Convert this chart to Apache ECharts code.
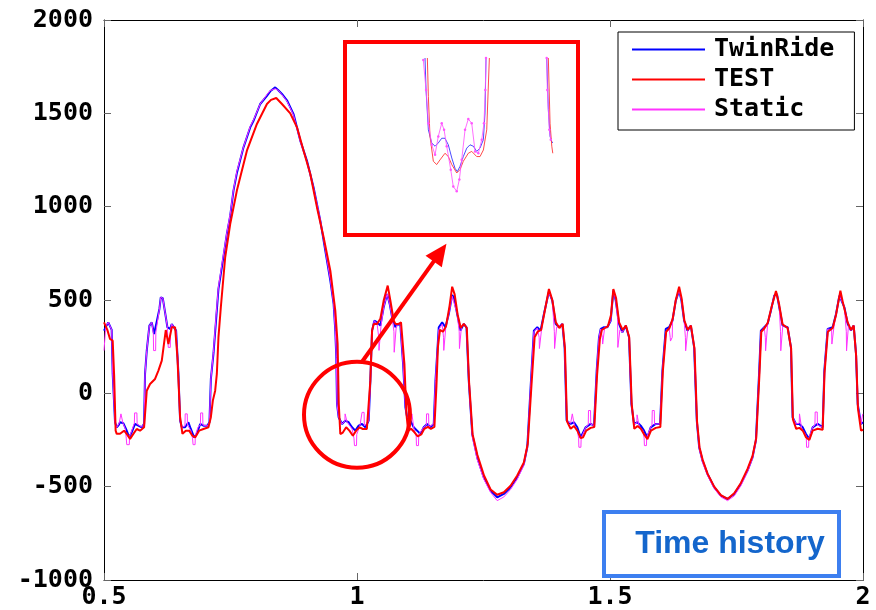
<!DOCTYPE html>
<html><head><meta charset="utf-8">
<script src="https://cdn.jsdelivr.net/npm/echarts@6/dist/echarts.min.js"></script>
<style>html,body{margin:0;padding:0;background:#fff}#c{width:876px;height:610px}</style>
</head><body><div id="c"></div>
<script>
// ---- Main chart data: [time, value] ----
const twinRide = [
[0.500,336],[0.5045,360],[0.5085,380],[0.5120,375],[0.5152,340],[0.5172,104],[0.5218,-155],[0.5251,-182],[0.5290,-170],[0.5317,-155],[0.5382,-160],[0.5435,-191],[0.5501,-236],[0.5548,-209],[0.5613,-164],[0.5679,-173],[0.5745,-182],[0.5792,-164],[0.5811,104],[0.5845,229],[0.5897,363],[0.5944,380],[0.5990,318],[0.6029,327],[0.6095,452],[0.6122,514],[0.6162,510],[0.6207,434],[0.6253,354],[0.6306,345],[0.6339,371],[0.6372,371],[0.6425,336],[0.6471,104],[0.6504,-146],[0.6538,-182],[0.6603,-182],[0.6668,-155],[0.6716,-191],[0.6781,-236],[0.6835,-217],[0.6900,-164],[0.6965,-173],[0.7044,-173],[0.7084,-155],[0.7112,77],[0.7163,211],[0.7217,400],[0.7262,560],[0.7329,675],[0.7428,854],[0.7494,950],[0.7559,1086],[0.7626,1180],[0.7757,1318],[0.7890,1425],[0.7955,1460],[0.8087,1550],[0.8220,1594],[0.8285,1618],[0.8384,1639],[0.8450,1622],[0.8517,1604],[0.8616,1570],[0.8746,1496],[0.8879,1354],[0.9011,1246],[0.9142,1103],[0.9275,925],[0.9374,764],[0.9473,604],[0.9538,479],[0.9571,336],[0.9591,193],[0.9605,-57],[0.9637,-128],[0.9704,-164],[0.9769,-146],[0.9835,-155],[0.9902,-182],[0.9967,-200],[1.0033,-173],[1.0100,-164],[1.0165,-182],[1.0231,-146],[1.0264,68],[1.0298,336],[1.0343,389],[1.0397,380],[1.0462,363],[1.0527,461],[1.0595,532],[1.0646,479],[1.0694,407],[1.0759,354],[1.0805,372],[1.0858,363],[1.0911,157],[1.0957,-75],[1.0991,-128],[1.1056,-146],[1.1121,-182],[1.1188,-200],[1.1254,-218],[1.1319,-182],[1.1386,-164],[1.1452,-182],[1.1517,-164],[1.1551,68],[1.1584,211],[1.1616,354],[1.1683,380],[1.1748,354],[1.1814,425],[1.1881,527],[1.1913,514],[1.1980,425],[1.2045,336],[1.2111,372],[1.2164,354],[1.2209,68],[1.2277,-218],[1.2376,-343],[1.2506,-450],[1.2639,-521],[1.2771,-557],[1.2902,-539],[1.3035,-503],[1.3167,-450],[1.3298,-378],[1.3365,-289],[1.3431,32],[1.3496,336],[1.3563,354],[1.3628,336],[1.3694,425],[1.3793,545],[1.3860,497],[1.3925,372],[1.3991,354],[1.4058,372],[1.4103,246],[1.4143,-146],[1.4222,-164],[1.4288,-155],[1.4354,-182],[1.4420,-236],[1.4453,-236],[1.4519,-182],[1.4618,-164],[1.4684,-173],[1.4737,122],[1.4783,300],[1.4816,345],[1.4882,354],[1.4948,354],[1.5014,389],[1.5066,550],[1.5113,497],[1.5179,372],[1.5245,327],[1.5310,363],[1.5376,300],[1.5423,-57],[1.5475,-164],[1.5541,-155],[1.5607,-173],[1.5673,-200],[1.5739,-236],[1.5805,-182],[1.5904,-164],[1.5990,-164],[1.6036,122],[1.6102,345],[1.6168,354],[1.6234,389],[1.6300,497],[1.6366,550],[1.6412,497],[1.6465,389],[1.6531,336],[1.6597,363],[1.6663,246],[1.6715,-146],[1.6762,-289],[1.6828,-361],[1.6927,-432],[1.7059,-503],[1.7191,-548],[1.7323,-566],[1.7455,-539],[1.7587,-485],[1.7718,-414],[1.7817,-343],[1.7883,-253],[1.7949,122],[1.7982,336],[1.8048,354],[1.8114,372],[1.8180,443],[1.8246,523],[1.8299,532],[1.8345,461],[1.8411,363],[1.8510,354],[1.8576,246],[1.8609,-128],[1.8675,-164],[1.8741,-164],[1.8807,-182],[1.8873,-218],[1.8939,-244],[1.9005,-182],[1.9104,-164],[1.9203,-182],[1.9236,122],[1.9302,345],[1.9401,354],[1.9467,425],[1.9533,523],[1.9566,532],[1.9632,461],[1.9697,372],[1.9763,336],[1.9816,363],[1.9862,211],[1.9895,-57],[1.9961,-164],[2.0000,-155]
];
const test = [
[0.500,380],[0.5066,340],[0.5119,291],[0.5172,282],[0.5200,100],[0.5230,-200],[0.5251,-217],[0.5317,-217],[0.5396,-200],[0.5449,-217],[0.5515,-244],[0.5580,-217],[0.5647,-191],[0.5712,-200],[0.5792,-182],[0.5845,14],[0.5910,50],[0.6009,77],[0.6075,122],[0.6142,175],[0.6221,339],[0.6273,264],[0.6339,354],[0.6405,354],[0.6451,193],[0.6504,-128],[0.6550,-217],[0.6617,-200],[0.6682,-200],[0.6747,-227],[0.6801,-236],[0.6880,-200],[0.6965,-191],[0.7064,-182],[0.7112,-128],[0.7151,-39],[0.7197,14],[0.7230,104],[0.7262,300],[0.7309,461],[0.7395,729],[0.7494,907],[0.7626,1086],[0.7824,1300],[0.8022,1443],[0.8220,1550],[0.8300,1572],[0.8404,1582],[0.8517,1550],[0.8681,1500],[0.8814,1425],[0.8944,1300],[0.9077,1175],[0.9209,996],[0.9340,836],[0.9473,657],[0.9571,443],[0.9617,265],[0.9640,-57],[0.9670,-218],[0.9720,-210],[0.9786,-182],[0.9850,-200],[0.9918,-227],[0.9984,-200],[1.0050,-182],[1.0117,-191],[1.0195,-191],[1.0264,68],[1.0298,336],[1.0330,372],[1.0397,372],[1.0462,400],[1.0527,497],[1.0607,577],[1.0660,497],[1.0726,389],[1.0759,372],[1.0825,372],[1.0870,380],[1.0937,157],[1.0977,-110],[1.1010,-200],[1.1070,-190],[1.1140,-210],[1.1200,-230],[1.1270,-220],[1.1330,-190],[1.1400,-180],[1.1460,-190],[1.1530,-180],[1.1570,40],[1.1600,250],[1.1640,340],[1.1700,330],[1.1760,360],[1.1830,470],[1.1881,571],[1.1930,530],[1.1990,420],[1.2050,350],[1.2111,372],[1.2170,350],[1.2215,60],[1.2285,-220],[1.2380,-330],[1.2510,-440],[1.2640,-515],[1.2771,-543],[1.2902,-530],[1.3035,-495],[1.3167,-440],[1.3298,-370],[1.3375,-270],[1.3445,30],[1.3510,300],[1.3570,330],[1.3640,340],[1.3710,440],[1.3793,559],[1.3860,500],[1.3930,380],[1.4000,350],[1.4065,372],[1.4110,240],[1.4150,-150],[1.4222,-190],[1.4288,-175],[1.4354,-200],[1.4420,-240],[1.4470,-235],[1.4530,-200],[1.4618,-185],[1.4690,-180],[1.4745,100],[1.4800,290],[1.4840,340],[1.4900,350],[1.4960,360],[1.5020,420],[1.5066,559],[1.5120,510],[1.5180,380],[1.5250,340],[1.5315,363],[1.5380,300],[1.5430,-60],[1.5480,-190],[1.5545,-175],[1.5610,-190],[1.5675,-220],[1.5740,-245],[1.5810,-200],[1.5904,-185],[1.5995,-180],[1.6045,120],[1.6110,330],[1.6175,350],[1.6240,400],[1.6300,500],[1.6366,571],[1.6415,510],[1.6470,390],[1.6535,340],[1.6600,363],[1.6670,240],[1.6720,-150],[1.6770,-290],[1.6830,-355],[1.6927,-430],[1.7059,-500],[1.7191,-545],[1.7323,-566],[1.7455,-535],[1.7587,-480],[1.7718,-405],[1.7817,-335],[1.7890,-240],[1.7955,110],[1.7990,330],[1.8055,350],[1.8120,380],[1.8190,460],[1.8280,548],[1.8340,480],[1.8410,370],[1.8510,350],[1.8580,240],[1.8615,-140],[1.8680,-190],[1.8745,-185],[1.8810,-200],[1.8873,-235],[1.8939,-250],[1.9005,-200],[1.9104,-190],[1.9203,-195],[1.9240,110],[1.9305,330],[1.9401,350],[1.9467,420],[1.9553,550],[1.9600,490],[1.9697,380],[1.9763,340],[1.9816,363],[1.9865,200],[1.9900,-80],[1.9961,-200],[2.0000,-195]
];
const staticRide = [
[0.500,229],[0.5030,229],[0.5035,360],[0.5085,380],[0.5120,370],[0.5152,340],[0.5172,104],[0.5218,-160],[0.5251,-182],[0.5300,-160],[0.5330,-160],[0.5335,-110],[0.5370,-110],[0.5375,-160],[0.5420,-190],[0.5440,-240],[0.5450,-275],[0.5500,-275],[0.5505,-230],[0.5548,-200],[0.5600,-160],[0.5605,-105],[0.5650,-105],[0.5655,-165],[0.5745,-180],[0.5792,-165],[0.5811,104],[0.5845,229],[0.5897,363],[0.5944,380],[0.5975,320],[0.5980,229],[0.6020,229],[0.6025,327],[0.6095,452],[0.6122,514],[0.6162,510],[0.6207,434],[0.6253,354],[0.6270,246],[0.6310,246],[0.6315,345],[0.6339,371],[0.6372,371],[0.6425,336],[0.6471,104],[0.6504,-146],[0.6538,-182],[0.6600,-175],[0.6605,-110],[0.6645,-110],[0.6650,-170],[0.6716,-200],[0.6750,-240],[0.6760,-275],[0.6800,-275],[0.6805,-225],[0.6860,-180],[0.6905,-170],[0.6910,-105],[0.6950,-105],[0.6955,-170],[0.7044,-175],[0.7084,-155],[0.7112,77],[0.7163,220],[0.7217,420],[0.7262,570],[0.7329,690],[0.7428,860],[0.7494,960],[0.7559,1090],[0.7626,1190],[0.7757,1320],[0.7890,1430],[0.7955,1465],[0.8087,1550],[0.8220,1600],[0.8285,1622],[0.8384,1632],[0.8450,1622],[0.8517,1600],[0.8616,1565],[0.8746,1490],[0.8879,1350],[0.9011,1240],[0.9142,1100],[0.9275,930],[0.9374,770],[0.9473,610],[0.9538,480],[0.9571,336],[0.9591,193],[0.9605,-57],[0.9637,-128],[0.9704,-164],[0.9760,-150],[0.9765,-110],[0.9800,-110],[0.9805,-155],[0.9902,-190],[0.9940,-240],[0.9950,-280],[0.9990,-280],[0.9995,-220],[1.0060,-170],[1.0095,-170],[1.0100,-102],[1.0140,-102],[1.0145,-175],[1.0231,-150],[1.0264,68],[1.0298,330],[1.0343,389],[1.0397,372],[1.0430,300],[1.0435,230],[1.0470,230],[1.0475,363],[1.0527,461],[1.0595,532],[1.0646,479],[1.0694,407],[1.0730,330],[1.0735,220],[1.0770,220],[1.0775,354],[1.0805,372],[1.0858,363],[1.0911,157],[1.0957,-75],[1.0991,-128],[1.1056,-146],[1.1080,-150],[1.1085,-110],[1.1120,-110],[1.1125,-190],[1.1170,-230],[1.1175,-280],[1.1215,-280],[1.1220,-220],[1.1319,-182],[1.1370,-170],[1.1375,-110],[1.1415,-110],[1.1420,-180],[1.1517,-164],[1.1551,68],[1.1584,211],[1.1616,340],[1.1683,370],[1.1710,300],[1.1715,230],[1.1750,230],[1.1755,354],[1.1814,425],[1.1881,520],[1.1913,514],[1.1980,425],[1.2020,330],[1.2025,240],[1.2060,240],[1.2065,360],[1.2111,372],[1.2164,354],[1.2209,68],[1.2277,-230],[1.2376,-355],[1.2506,-460],[1.2639,-530],[1.2771,-575],[1.2902,-555],[1.3035,-515],[1.3167,-460],[1.3298,-385],[1.3365,-290],[1.3431,32],[1.3496,330],[1.3563,350],[1.3600,300],[1.3605,240],[1.3640,240],[1.3645,336],[1.3694,425],[1.3793,540],[1.3860,497],[1.3900,330],[1.3905,240],[1.3940,240],[1.3945,354],[1.4058,372],[1.4103,246],[1.4143,-146],[1.4222,-160],[1.4250,-160],[1.4255,-110],[1.4290,-110],[1.4295,-170],[1.4354,-200],[1.4380,-240],[1.4385,-289],[1.4425,-289],[1.4430,-240],[1.4519,-182],[1.4570,-170],[1.4575,-92],[1.4615,-92],[1.4620,-165],[1.4684,-173],[1.4737,122],[1.4783,300],[1.4816,345],[1.4850,300],[1.4855,264],[1.4890,264],[1.4895,354],[1.4948,354],[1.5014,389],[1.5066,550],[1.5113,497],[1.5150,400],[1.5155,246],[1.5190,246],[1.5195,340],[1.5245,327],[1.5310,363],[1.5376,300],[1.5423,-57],[1.5475,-164],[1.5530,-160],[1.5535,-115],[1.5570,-115],[1.5575,-175],[1.5650,-200],[1.5675,-240],[1.5680,-280],[1.5720,-280],[1.5725,-236],[1.5805,-182],[1.5830,-170],[1.5835,-92],[1.5875,-92],[1.5880,-165],[1.5990,-164],[1.6036,122],[1.6102,330],[1.6168,350],[1.6190,300],[1.6195,280],[1.6230,300],[1.6235,389],[1.6300,497],[1.6366,550],[1.6412,497],[1.6465,389],[1.6490,300],[1.6495,228],[1.6530,228],[1.6535,336],[1.6597,363],[1.6663,246],[1.6715,-146],[1.6762,-295],[1.6828,-370],[1.6927,-440],[1.7059,-510],[1.7191,-555],[1.7323,-575],[1.7455,-550],[1.7587,-495],[1.7718,-420],[1.7817,-350],[1.7883,-260],[1.7949,122],[1.7982,330],[1.8048,354],[1.8070,300],[1.8075,228],[1.8110,228],[1.8115,372],[1.8180,443],[1.8246,523],[1.8299,532],[1.8345,461],[1.8370,330],[1.8375,228],[1.8410,228],[1.8415,363],[1.8510,354],[1.8576,246],[1.8609,-128],[1.8675,-164],[1.8740,-160],[1.8745,-110],[1.8780,-110],[1.8785,-185],[1.8873,-225],[1.8880,-240],[1.8885,-289],[1.8925,-289],[1.8930,-240],[1.9005,-182],[1.9050,-170],[1.9055,-100],[1.9095,-100],[1.9100,-170],[1.9203,-182],[1.9236,122],[1.9302,345],[1.9380,340],[1.9385,264],[1.9420,264],[1.9425,354],[1.9467,425],[1.9533,523],[1.9566,532],[1.9632,461],[1.9670,330],[1.9675,228],[1.9710,228],[1.9715,372],[1.9763,336],[1.9816,363],[1.9862,211],[1.9895,-57],[1.9961,-164],[1.9990,-160],[1.9995,-110],[2.0000,-110]
];
// ---- Inset (zoomed view) data ----
const insetTwinA = [[0.9640,0],[0.9650,-68],[0.9673,-153],[0.9706,-181],[0.9739,-188],[0.9771,-181],[0.9805,-171],[0.9837,-171],[0.9870,-185],[0.9904,-213],[0.9936,-235],[0.9959,-242],[0.9985,-231],[1.0018,-210],[1.0052,-192],[1.0084,-185],[1.0117,-188],[1.0150,-199],[1.0183,-192],[1.0216,-174],[1.0232,-117],[1.0242,0]];
const insetTestA = [[0.9663,0],[0.9673,-82],[0.9689,-167],[0.9722,-220],[0.9755,-227],[0.9788,-217],[0.9837,-203],[0.9870,-210],[0.9904,-227],[0.9953,-245],[0.9985,-238],[1.0018,-220],[1.0067,-203],[1.0101,-199],[1.0150,-210],[1.0183,-210],[1.0216,-196],[1.0249,-153],[1.0275,0]];
const insetStaticA = [[0.9623,-4],[0.9650,-68],[0.9673,-139],[0.9706,-185],[0.9739,-206],[0.9771,-167],[0.9805,-139],[0.9828,-153],[0.9854,-188],[0.9894,-238],[0.9919,-274],[0.9953,-284],[0.9979,-259],[1.0002,-217],[1.0035,-153],[1.0067,-130],[1.0101,-139],[1.0134,-199],[1.0166,-203],[1.0200,-174],[1.0222,-139],[1.0235,-68],[1.0242,0]];
const insetTwinB = [[1.0841,0],[1.0857,-110],[1.0874,-167],[1.0891,-178],[1.0901,-181]];
const insetTestB = [[1.0857,0],[1.0874,-139],[1.0891,-188],[1.0901,-203]];
const insetStaticB = [[1.0841,0],[1.0847,-68],[1.0867,-153],[1.0881,-174]];

const xTicks = {min: 0.5, max: 2, interval: 0.5};
const yTicks = {min: -1000, max: 2000, interval: 500};

const C_BLUE = '#0000ff', C_RED = '#ff0000', C_MAG = '#ff33ff';
const tickFont = {fontFamily: 'DejaVu Sans Mono', fontWeight: 'bold', fontSize: 25, color: '#000', formatter: v => String(v)};
const axisLine = {show: true, onZero: false, lineStyle: {color: '#000', width: 1}};
const axisTick = {show: true, inside: true, length: 7, lineStyle: {color: '#666'}};

const chart = echarts.init(document.getElementById('c'), null, {renderer: 'canvas'});

function mainLine(name, data, color, width, z) {
  return {name, type: 'line', xAxisIndex: 0, yAxisIndex: 0, data, showSymbol: false, symbol: 'none',
    lineStyle: {color, width}, itemStyle: {color}, z, clip: true, animation: false};
}
function insetLine(name, data, color, dots) {
  return {name, type: 'line', xAxisIndex: 2, yAxisIndex: 2, data,
    showSymbol: !!dots, symbol: dots ? 'circle' : 'none', symbolSize: 2.5,
    lineStyle: {color, width: 1, opacity: 0.85}, itemStyle: {color}, z: 6, clip: true, animation: false};
}

chart.setOption({
  animation: false,
  backgroundColor: '#fff',
  grid: [
    {left: 104, top: 20, right: 13, bottom: 30, show: false},
    {left: 347, top: 58, width: 229, height: 176, show: false}
  ],
  xAxis: [
    {type: 'value', gridIndex: 0, position: 'bottom', min: xTicks.min, max: xTicks.max, interval: xTicks.interval,
      axisLine, axisTick, splitLine: {show: false}, axisLabel: Object.assign({margin: 5}, tickFont)},
    {type: 'value', gridIndex: 0, position: 'top', min: xTicks.min, max: xTicks.max, interval: xTicks.interval,
      axisLine, axisTick, splitLine: {show: false}, axisLabel: {show: false}},
    {type: 'value', gridIndex: 1, min: 0.887, max: 1.113, show: false}
  ],
  yAxis: [
    {type: 'value', gridIndex: 0, position: 'left', min: yTicks.min, max: yTicks.max, interval: yTicks.interval,
      axisLine, axisTick, splitLine: {show: false}, axisLabel: Object.assign({margin: 11}, tickFont)},
    {type: 'value', gridIndex: 0, position: 'right', min: yTicks.min, max: yTicks.max, interval: yTicks.interval,
      axisLine, axisTick, splitLine: {show: false}, axisLabel: {show: false}},
    {type: 'value', gridIndex: 1, min: -375, max: 0, show: false}
  ],
  legend: {
    data: ['TwinRide', 'TEST', 'Static'],
    orient: 'vertical', left: 618, top: 32,
    backgroundColor: '#fff', borderColor: '#000', borderWidth: 1, borderRadius: 0,
    padding: [5, 20, 8, 14], itemGap: 5, itemWidth: 73, itemHeight: 2, icon: 'rect',
    textStyle: {fontFamily: 'DejaVu Sans Mono', fontWeight: 'bold', fontSize: 25, color: '#000', lineHeight: 25, padding: [0, 0, 0, 4]},
    selectedMode: false, z: 8
  },
  series: [
    mainLine('TwinRide', twinRide, C_BLUE, 2, 2),
    mainLine('TEST', test, C_RED, 2, 4),
    mainLine('Static', staticRide, C_MAG, 1, 3),
    insetLine('iTwinA', insetTwinA, '#2a2aff', false),
    insetLine('iTestA', insetTestA, '#ff2a2a', false),
    insetLine('iStaticA', insetStaticA, '#ff55ff', true),
    insetLine('iTwinB', insetTwinB, '#2a2aff', false),
    insetLine('iTestB', insetTestB, '#ff2a2a', false),
    insetLine('iStaticB', insetStaticB, '#ff55ff', true)
  ]
});

// annotations: circle and arrow placed through the main axes
const circ = chart.convertToPixel({xAxisIndex: 0, yAxisIndex: 0}, [1.0, -115]);
const aStart = chart.convertToPixel({xAxisIndex: 0, yAxisIndex: 0}, [1.0086, 164]);
const aTip = chart.convertToPixel({xAxisIndex: 0, yAxisIndex: 0}, [1.1768, 802]);
const dx = aTip[0] - aStart[0], dy = aTip[1] - aStart[1];
const L = Math.sqrt(dx * dx + dy * dy), ux = dx / L, uy = dy / L, px = -uy, py = ux;
const headLen = 22, headHalf = 10;
const bx = aTip[0] - ux * headLen, by = aTip[1] - uy * headLen;

chart.setOption({
  graphic: [
    {type: 'rect', shape: {x: 345, y: 42, width: 233, height: 193}, style: {fill: '#fff', stroke: '#ff0000', lineWidth: 4}, z: 1},
    {type: 'circle', shape: {cx: circ[0], cy: circ[1], r: 53}, style: {fill: 'none', stroke: '#ff0000', lineWidth: 4}, z: 10},
    {type: 'line', shape: {x1: aStart[0], y1: aStart[1], x2: bx + ux * 2, y2: by + uy * 2}, style: {stroke: '#ff0000', lineWidth: 4}, z: 10},
    {type: 'polygon', shape: {points: [[aTip[0], aTip[1]], [bx + px * headHalf, by + py * headHalf], [bx - px * headHalf, by - py * headHalf]]}, style: {fill: '#ff0000'}, z: 10},
    {type: 'rect', shape: {x: 604, y: 512, width: 235, height: 64}, style: {fill: '#fff', stroke: '#3d7ff0', lineWidth: 4}, z: 10},
    {type: 'text', x: 730, y: 544, style: {text: 'Time history', fill: '#1466cc', font: 'bold 32px "Liberation Sans", Arial, sans-serif', textAlign: 'center', textVerticalAlign: 'middle'}, z: 11}
  ]
});
</script></body></html>
